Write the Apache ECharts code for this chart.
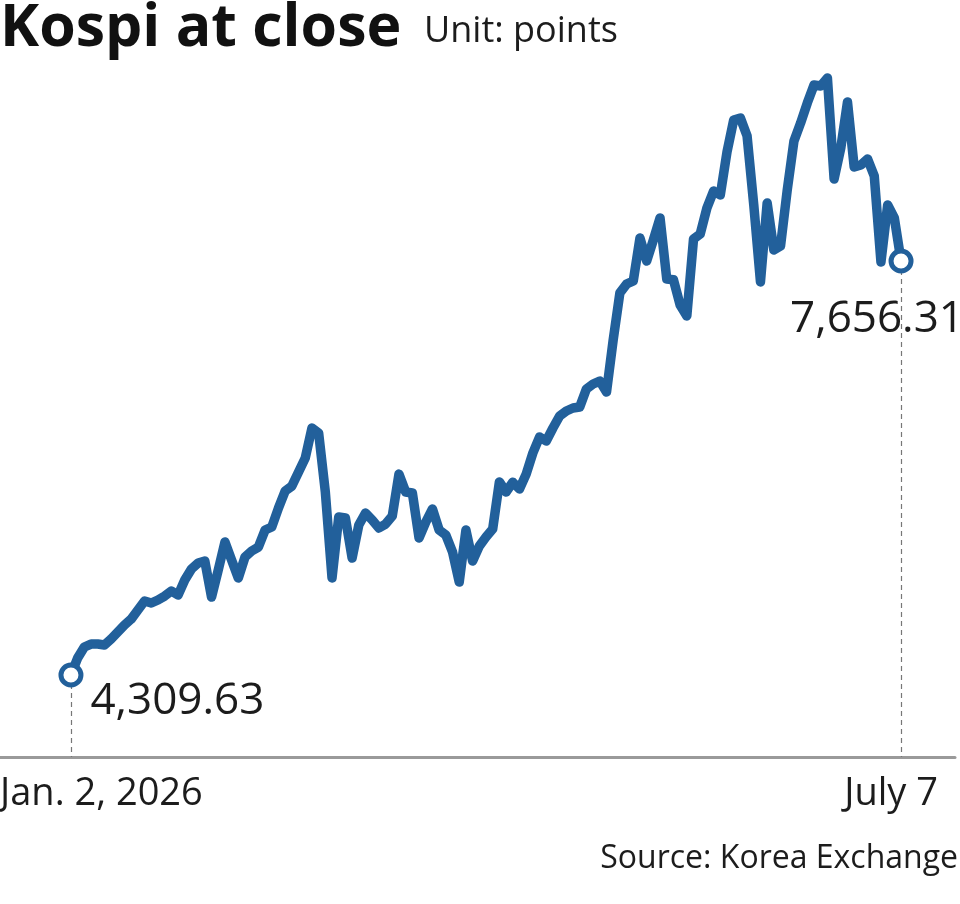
<!DOCTYPE html>
<html>
<head>
<meta charset="utf-8">
<title>Kospi at close</title>
<script src="https://cdn.jsdelivr.net/npm/echarts@6/dist/echarts.min.js"></script>
<style>
html, body { margin: 0; padding: 0; background: #fff; }
#chart { width: 960px; height: 904px; }
</style>
</head>
<body>
<div id="chart"></div>
<script>
// daily closes, Jan. 2 -> July 7 2026
const closes = [
  4309.63, 4447, 4536, 4560, 4560, 4552, 4601, 4657, 4714, 4762,
  4835, 4908, 4892, 4916, 4948, 4989, 4956, 5078, 5167, 5215,
  5231, 4940, 5158, 5385, 5239, 5094, 5264, 5312, 5344, 5482,
  5506, 5660, 5797, 5837, 5951, 6064, 6306, 6266, 5789, 5094,
  5587, 5579, 5255, 5522, 5619, 5563, 5498, 5530, 5595, 5934,
  5789, 5781, 5417, 5546, 5652, 5482, 5441, 5304, 5061, 5482,
  5231, 5352, 5425, 5490, 5870, 5789, 5868, 5813, 5934, 6104,
  6234, 6201, 6306, 6403, 6444, 6468, 6476, 6622, 6662, 6686,
  6597, 7018, 7398, 7470, 7495, 7842, 7656, 7826, 8004, 7511,
  7505, 7301, 7212, 7834, 7875, 8085, 8222, 8190, 8537, 8796,
  8812, 8667, 8109, 7487, 8125, 7745, 7778, 8230, 8626, 8772,
  8934, 9079, 9071, 9136, 8319, 8570, 8942, 8416, 8432, 8481,
  8343, 7648, 8109, 8004, 7656.31
];
const xLabels = ['Jan. 2, 2026', 'July 7'];
const yMin = 3647;
const yMax = 9281;

const lineColor = '#22609b';
const textColor = '#1c1c1c';
const lastIdx = closes.length - 1;

function fmt(v) {
  return v.toLocaleString('en-US', { minimumFractionDigits: 2, maximumFractionDigits: 2 });
}

const seriesData = closes.map((v, i) => {
  if (i === 0) {
    return {
      value: [i, v],
      symbol: 'circle',
      symbolSize: 20,
      itemStyle: { color: '#fff', borderColor: lineColor, borderWidth: 5 },
      label: {
        show: true, position: 'right', distance: 4, offset: [3, 26],
        formatter: () => fmt(v),
      },
    };
  }
  if (i === lastIdx) {
    return {
      value: [i, v],
      symbol: 'circle',
      symbolSize: 20,
      itemStyle: { color: '#fff', borderColor: lineColor, borderWidth: 5 },
      label: {
        show: true, position: 'bottom', distance: 4, offset: [-24, 20],
        formatter: () => fmt(v),
      },
    };
  }
  return { value: [i, v], symbol: 'none' };
});

const chart = echarts.init(document.getElementById('chart'));

const option = {
  backgroundColor: '#fff',
  animation: false,
  grid: { left: 0, right: 5, top: 60, bottom: 147 },
  xAxis: {
    type: 'value',
    min: -10.6,
    max: 132.06,
    axisLine: { show: true, onZero: false, lineStyle: { color: '#9a9a9a', width: 3 } },
    axisTick: { show: false },
    axisLabel: { show: false },
    splitLine: { show: false },
  },
  yAxis: {
    type: 'value',
    min: yMin,
    max: yMax,
    show: false,
    splitLine: { show: false },
  },
  series: [{
    type: 'line',
    data: seriesData,
    showSymbol: true,
    lineStyle: { color: lineColor, width: 9.5, join: 'round', cap: 'round' },
    itemStyle: { color: lineColor },
    z: 3,
    label: {
      color: textColor,
      fontFamily: 'Open Sans',
      fontSize: 44,
      letterSpacing: -2.5,
    },
    markLine: {
      silent: true,
      symbol: 'none',
      label: { show: false },
      lineStyle: { color: '#777', type: [5, 4], width: 1.2 },
      z: 1,
      data: [
        [{ coord: [0, closes[0]] }, { coord: [0, yMin] }],
        [{ coord: [lastIdx, closes[lastIdx]] }, { coord: [lastIdx, yMin] }],
      ],
    },
  }],
  graphic: [
    {
      type: 'text', left: 0, top: 0,
      style: { text: 'Kospi at close', fill: '#111', font: 'bold 59px "Open Sans"', letterSpacing: -3.5 },
    },
    {
      type: 'text', left: 424, top: 14,
      style: { text: 'Unit: points', fill: textColor, font: '36px "Open Sans"', letterSpacing: -0.8 },
    },
    {
      type: 'text', left: 0, top: 775,
      style: { text: xLabels[0], fill: textColor, font: '38px "Open Sans"', letterSpacing: -2 },
    },
    {
      type: 'text', right: 22, top: 775,
      style: { text: xLabels[1], fill: textColor, font: '38px "Open Sans"', letterSpacing: -2 },
    },
    {
      type: 'text', right: 2, top: 843,
      style: { text: 'Source: Korea Exchange', fill: textColor, font: '32px "Open Sans"', letterSpacing: -1.2 },
    },
  ],
};

chart.setOption(option);
</script>
</body>
</html>
